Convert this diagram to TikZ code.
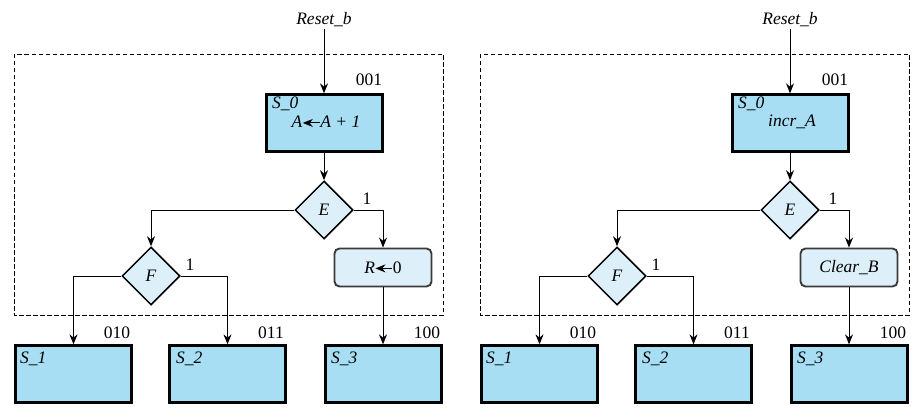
\documentclass[tikz,border=0pt]{standalone}
\usepackage{fontspec}
\setmainfont{Liberation Serif}
\usetikzlibrary{shapes.geometric,arrows.meta}
\definecolor{stateblue}{HTML}{A8DEF3}
\definecolor{condblue}{HTML}{DDF0FA}
\definecolor{edgegray}{HTML}{3A3A3A}
\newcommand\getsarrow{\tikz[baseline=-0.6ex]\draw[{Stealth[length=10pt,width=8pt]}-,line width=1pt] (0pt,0pt)--(17pt,0pt);}
\tikzset{
  txt/.style={inner sep=0pt, font=\fontsize{17.5}{20}\selectfont},
  itxt/.style={txt, font=\fontsize{17.5}{20}\selectfont\itshape},
  statebox/.style={draw=black, line width=2.3pt, fill=stateblue, minimum width=116pt, minimum height=57pt, inner sep=0pt},
  condbox/.style={draw=edgegray, line width=1.9pt, fill=condblue, rounded corners=5pt, minimum width=97pt, minimum height=38pt, inner sep=0pt, font=\fontsize{17.5}{20}\selectfont\itshape},
  decision/.style={diamond, draw=black, line width=1.5pt, fill=condblue, minimum width=58pt, minimum height=58pt, inner sep=0pt, font=\fontsize{17.5}{20}\selectfont\itshape},
  conn/.style={line width=1pt, -{Stealth[length=10pt,width=8pt]}},
  frame/.style={line width=0.9pt, dash pattern=on 4.5pt off 2.5pt}
}
\newcommand\drawpanel[2]{%
  \draw[frame] (14,54) rectangle (443,315);
  \node[itxt] (reset) at (324,20) {Reset\_b};
  \node[statebox] (s0) at (324.5,123) {};
  \node[itxt, anchor=west] (s0name) at (272,104) {S\_0};
  \node[itxt] (s0act) at (326,122) {#1};
  \node[txt] (c001) at (369,80) {001};
  \node[decision] (E) at (324,210) {E};
  \node[txt] (e1) at (367,199) {1};
  \node[decision] (F) at (151,276) {F};
  \node[txt] (f1) at (190,265) {1};
  \node[condbox] (R) at (383,267.5) {#2};
  \node[statebox] (s1) at (73.5,374) {};
  \node[statebox] (s2) at (227.5,374) {};
  \node[statebox] (s3) at (383.5,374) {};
  \node[itxt, anchor=west] (s1name) at (20,359) {S\_1};
  \node[itxt, anchor=west] (s2name) at (176,359) {S\_2};
  \node[itxt, anchor=west] (s3name) at (331,359) {S\_3};
  \node[txt] (c010) at (117,333) {010};
  \node[txt] (c011) at (271,333) {011};
  \node[txt] (c100) at (427,333) {100};
  \draw[conn] (reset.south) ++(0,2) -- (reset.south |- s0.north);
  \draw[conn] (s0.south -| E.north) -- (E.north);
  \draw[conn] (E.west) -| (F.north);
  \draw[conn] (E.east) -| (R.north);
  \draw[conn] (F.west) -| (s1.north);
  \draw[conn] (F.east) -| (s2.north);
  \draw[conn] (R.south) -- (R.south |- s3.north);
}
\begin{document}
\begin{tikzpicture}[x=1pt, y=-1pt]
  \useasboundingbox (0,0) rectangle (920,414);
  \begin{scope}[name prefix=L-]
    \drawpanel{\textit{A}\getsarrow\textit{A} + \textit{1}}{\textit{R}\getsarrow\textup{0}}
  \end{scope}
  \begin{scope}[xshift=466pt, name prefix=R-]
    \drawpanel{incr\_A}{Clear\_B}
  \end{scope}
\end{tikzpicture}
\end{document}
